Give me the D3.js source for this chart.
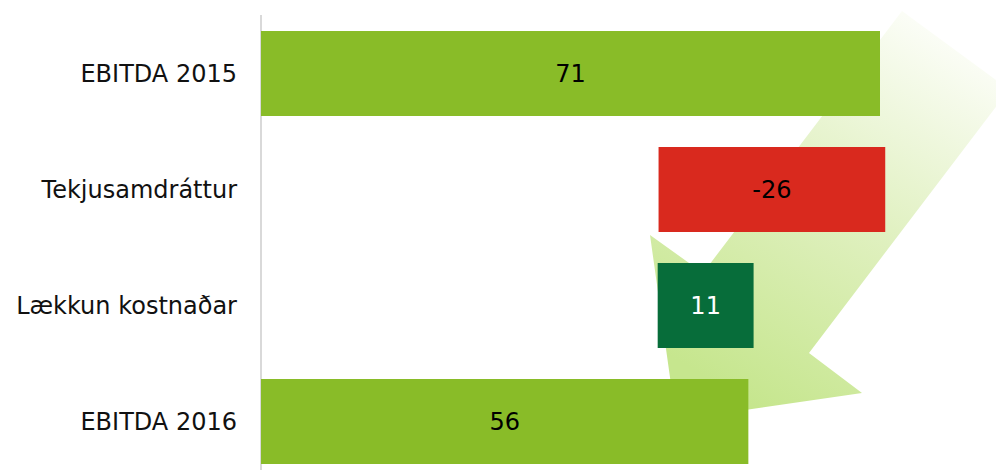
<!DOCTYPE html>
<html><head><meta charset="utf-8">
<script src="https://cdn.jsdelivr.net/npm/d3@7/dist/d3.min.js"></script>
<style>body{margin:0;background:#fff;}svg{display:block;}</style>
</head><body>
<svg id="chart" width="996" height="470"></svg>
<script>
const categories = ["EBITDA 2015", "Tekjusamdráttur", "Lækkun kostnaðar", "EBITDA 2016"];
const barStart = [0, 45.6, 45.5, 0];
const barEnd = [71, 71.6, 56.5, 55.9];
const valueLabels = ["71", "-26", "11", "56"];
const barColors = ["#89bc28", "#d9291e", "#076d3a", "#89bc28"];
const labelColors = ["#000", "#000", "#fff", "#000"];

const svg = d3.select("#chart");
const x = d3.scaleLinear().domain([0, 71]).range([261, 880]);
const y = d3.scaleBand().domain(categories).range([15.5, 479.5])
  .paddingInner(31/116).paddingOuter(31/232);

// decorative arrow
const defs = svg.append("defs");
const grad = defs.append("linearGradient").attr("id", "arrowGrad")
  .attr("gradientUnits", "userSpaceOnUse")
  .attr("x1", 955).attr("y1", 45).attr("x2", 745).attr("y2", 400);
grad.append("stop").attr("offset", 0).attr("stop-color", "#fbfdf6");
grad.append("stop").attr("offset", 0.5).attr("stop-color", "#dff0be");
grad.append("stop").attr("offset", 1).attr("stop-color", "#c6e68e");
const arrowPts = [[902,11],[1009,89.5],[809,353],[862,393],[676,420],[650,235],[703,273]];
svg.append("path")
  .attr("d", d3.line()(arrowPts) + "Z")
  .attr("fill", "url(#arrowGrad)");

// axis line
svg.append("line")
  .attr("x1", x(0)).attr("x2", x(0))
  .attr("y1", 15).attr("y2", 470)
  .attr("stroke", "#d9d9d9").attr("stroke-width", 2);

const g = svg.append("g");
categories.forEach((c, i) => {
  g.append("rect")
    .attr("x", x(barStart[i]))
    .attr("y", y(c))
    .attr("width", x(barEnd[i]) - x(barStart[i]))
    .attr("height", y.bandwidth())
    .attr("fill", barColors[i]);
  g.append("text")
    .attr("x", (x(barStart[i]) + x(barEnd[i])) / 2)
    .attr("y", y(c) + y.bandwidth() / 2)
    .attr("text-anchor", "middle")
    .attr("dominant-baseline", "central")
    .attr("font-family", "DejaVu Sans, Verdana, sans-serif")
    .attr("font-size", 24)
    .attr("fill", labelColors[i])
    .text(valueLabels[i]);
  g.append("text")
    .attr("x", 237)
    .attr("y", y(c) + y.bandwidth() / 2)
    .attr("text-anchor", "end")
    .attr("dominant-baseline", "central")
    .attr("font-family", "DejaVu Sans, Verdana, sans-serif")
    .attr("font-size", 24)
    .attr("fill", "#111")
    .text(c);
});
</script>
</body></html>
